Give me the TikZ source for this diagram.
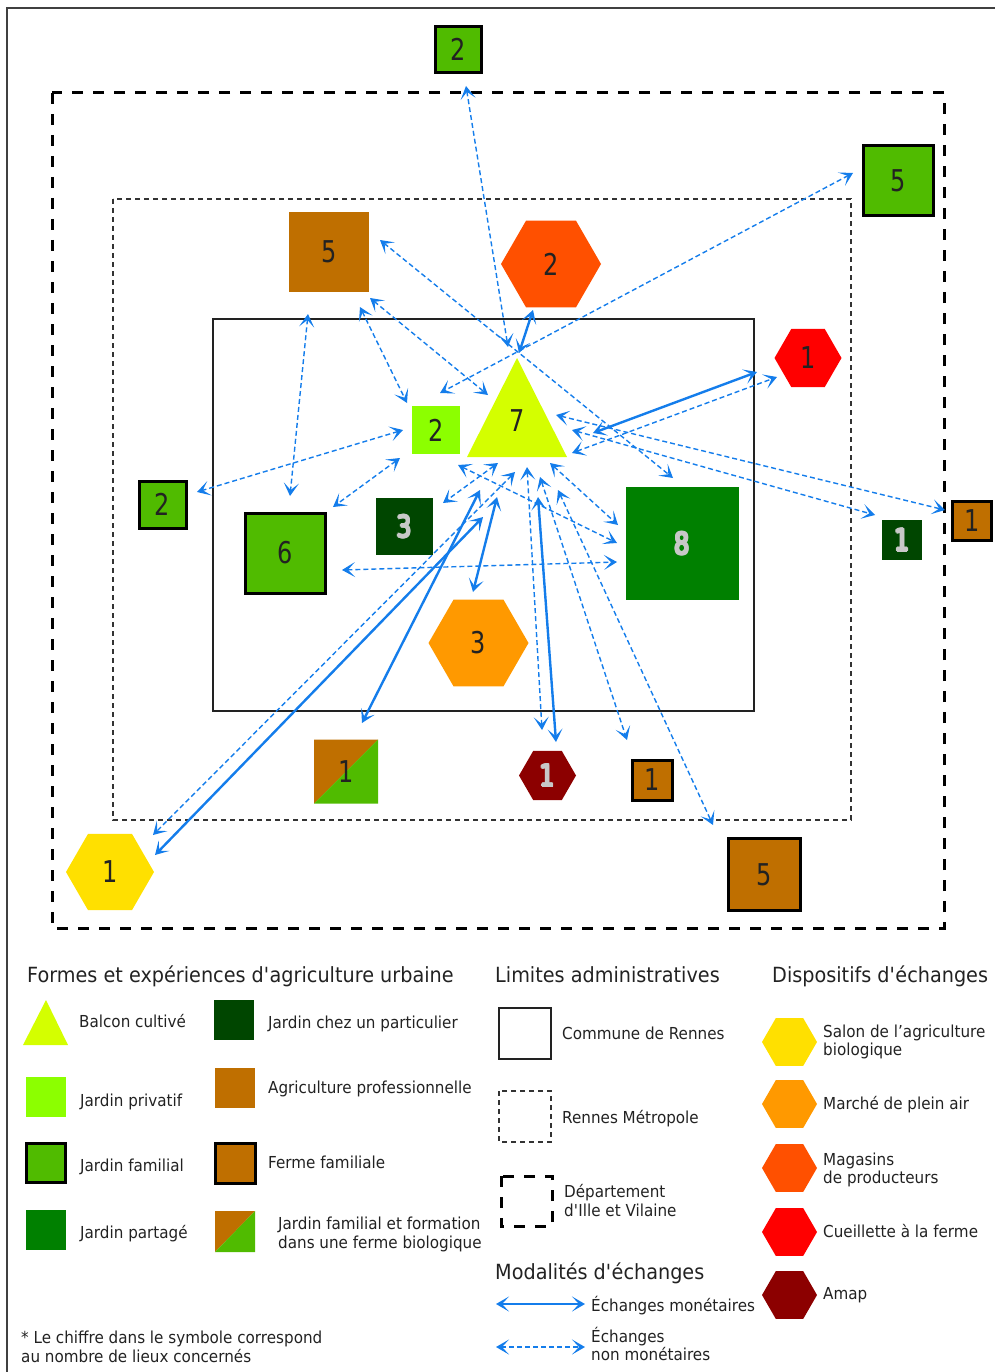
\documentclass[tikz,border=0pt]{standalone}
\usepackage{fontspec}
\setmainfont{DejaVu Sans}[FakeStretch=0.92]
\newfontfamily\numfont{DejaVu Sans}[FakeStretch=0.8]
\usetikzlibrary{shapes.geometric,arrows.meta}
\definecolor{famgreen}{RGB}{80,187,0}
\definecolor{brownag}{RGB}{191,111,0}
\definecolor{darkgr}{RGB}{0,70,0}
\definecolor{partgr}{RGB}{0,128,0}
\definecolor{privgr}{RGB}{140,255,0}
\definecolor{balcon}{RGB}{212,255,0}
\definecolor{salon}{RGB}{255,224,0}
\definecolor{marche}{RGB}{255,153,0}
\definecolor{magasin}{RGB}{255,80,0}
\definecolor{cueil}{RGB}{255,0,0}
\definecolor{amapc}{RGB}{140,0,0}
\definecolor{flow}{RGB}{20,125,235}
\definecolor{ink}{RGB}{34,34,34}
\definecolor{halo}{RGB}{200,200,200}
\newcommand\hdfont{\fontsize{20.9}{24}\selectfont}
\newcommand\lbfont{\fontsize{16.5}{19}\selectfont}
\newcommand\nbfont{\numfont\fontsize{30}{30}\selectfont}
\newsavebox\digbox
\newcommand\hlcopy[2]{\rlap{\kern#1\raisebox{#2}{\usebox\digbox}}}
\newcommand\outl[1]{\sbox\digbox{#1}%
  \hlcopy{1.1pt}{0pt}\hlcopy{-1.1pt}{0pt}\hlcopy{0pt}{1.1pt}\hlcopy{0pt}{-1.1pt}%
  \hlcopy{0.8pt}{0.8pt}\hlcopy{-0.8pt}{0.8pt}\hlcopy{0.8pt}{-0.8pt}\hlcopy{-0.8pt}{-0.8pt}%
  \textcolor{ink}{\usebox\digbox}}
\tikzset{
  sq/.style={rectangle,inner sep=0pt,outer sep=0pt,text=ink,font=\nbfont},
  famsq/.style={sq,fill=famgreen,draw=black,line width=3pt},
  fermesq/.style={sq,fill=brownag,draw=black,line width=3pt},
  prosq/.style={sq,fill=brownag},
  privsq/.style={sq,fill=privgr},
  partsq/.style={sq,fill=partgr},
  partisq/.style={sq,fill=darkgr},
  rim/.style={text=halo},
  hexa/.style={regular polygon,regular polygon sides=6,inner sep=0pt,outer sep=0pt,text=ink,font=\nbfont},
  lab/.style={anchor=base west,inner sep=0pt,text=ink,font=\lbfont},
  head/.style={anchor=base west,inner sep=0pt,text=ink,font=\hdfont},
  tipx/.tip={Stealth[length=13pt,width=15pt,inset=7pt]},
  mon/.style={draw=flow,line width=2.4pt,tipx-tipx},
  nonmon/.style={draw=flow,line width=1.4pt,dash pattern=on 5pt off 3pt,tipx-tipx},
}
\begin{document}
\begin{tikzpicture}[x=1pt,y=-1pt]
\useasboundingbox (0,0) rectangle (995,1372);
% outer frame
\draw[line width=2pt,black!75] (7,1372) -- (7,8) -- (995,8);
% administrative limits
\draw[line width=3pt,dash pattern=on 11pt off 10pt,black] (52,93) rectangle (944,928);
\draw[line width=1.5pt,dash pattern=on 5pt off 4pt,black!80] (113,199) rectangle (851,820);
\draw[line width=2pt,ink] (213,319) rectangle (754,711);

% shapes
\node[famsq,minimum size=46pt] (topfam) at (458.5,49.5) {2};
\node[famsq,minimum size=70pt] (rightfam) at (898.5,181) {5};
\node[prosq,minimum size=80pt] (pro5) at (329,252) {5};
\node[hexa,fill=magasin,minimum size=100pt] (mag) at (551,264) {2};
\node[hexa,fill=cueil,minimum size=67pt] (cueil1) at (808,358) {1};
\fill[balcon] (467,457) -- (517,358) -- (567,457) -- cycle;
\node[sq] (balc) at (517,421) {7};
\node[privsq,minimum size=48pt] (priv) at (436,430) {2};
\node[famsq,minimum size=47pt] (leftfam) at (162.5,504.5) {2};
\node[famsq,minimum size=80pt] (fam6) at (285.5,553) {6};
\node[partisq,rim,minimum size=57pt] (parti3) at (404.5,526.5) {\outl{3}};
\node[partsq,rim,minimum size=113pt] (part8) at (682,543.5) {\outl{8}};
\node[hexa,fill=marche,minimum size=100pt] (marche3) at (478.5,643) {3};
\node[partisq,rim,minimum size=40pt] (parti1) at (902,540) {\outl{1}};
\node[fermesq,minimum size=39pt] (ferme1a) at (972,520.5) {1};
\fill[brownag] (314,803.5) -- (314,739.5) -- (378,739.5) -- cycle;
\fill[famgreen] (314,803.5) -- (378,803.5) -- (378,739.5) -- cycle;
\node[sq] (split1) at (346,771.5) {1};
\node[hexa,rim,fill=amapc,minimum size=57pt] (amap1) at (547.5,775.5) {\outl{1}};
\node[fermesq,minimum size=40pt] (ferme1b) at (652.5,780) {1};
\node[fermesq,minimum size=72pt] (ferme5) at (764.5,874.5) {5};
\node[hexa,fill=salon,minimum size=88pt] (salon1) at (110,872) {1};

% arrow end points
\coordinate (a1s) at (466,86);   \coordinate (a1e) at (508,347);
\coordinate (a2s) at (853,173);  \coordinate (a2e) at (440,393);
\coordinate (a3s) at (380,240);  \coordinate (a3e) at (673,478);
\coordinate (a4s) at (370,298);  \coordinate (a4e) at (488,395);
\coordinate (a5s) at (360,307);  \coordinate (a5e) at (407,403);
\coordinate (a6s) at (308,314);  \coordinate (a6e) at (290,496);
\coordinate (a7s) at (403,430);  \coordinate (a7e) at (197,492);
\coordinate (a8s) at (400,458);  \coordinate (a8e) at (333,507);
\coordinate (a9s) at (458,465);  \coordinate (a9e) at (617,543);
\coordinate (a10s) at (498,463); \coordinate (a10e) at (443,503);
\coordinate (a11s) at (515,472); \coordinate (a11e) at (153,835);
\coordinate (a16s) at (527,467); \coordinate (a16e) at (542,730);
\coordinate (a17s) at (540,477); \coordinate (a17e) at (627,740);
\coordinate (a18s) at (558,490); \coordinate (a18e) at (713,825);
\coordinate (a19s) at (550,463); \coordinate (a19e) at (618,525);
\coordinate (a20s) at (342,570); \coordinate (a20e) at (617,562);
\coordinate (a22s) at (572,453); \coordinate (a22e) at (777,377);
\coordinate (a23s) at (556,415); \coordinate (a23e) at (945,510);
\coordinate (a24s) at (572,430); \coordinate (a24e) at (875,515);
\coordinate (m1s) at (533,310);  \coordinate (m1e) at (519,353);
\coordinate (m2s) at (483,517);  \coordinate (m2e) at (155,855);
\coordinate (m3s) at (480,490);  \coordinate (m3e) at (362,723);
\coordinate (m4s) at (497,497);  \coordinate (m4e) at (473,592);
\coordinate (m5s) at (538,497);  \coordinate (m5e) at (556,742);
\coordinate (m6s) at (593,433);  \coordinate (m6e) at (757,372);

\foreach \i in {1,2,3,4,5,6,7,8,9,10,11,16,17,18,19,20,22,23,24}
  \draw[nonmon] (a\i s) -- (a\i e);
\foreach \i in {1,...,6}
  \draw[mon] (m\i s) -- (m\i e);

% ===== legend =====
\node[head] (h1) at (27,982) {Formes et expériences d\textquotesingle agriculture urbaine};
\fill[balcon] (23,1045) -- (46,1000) -- (68,1045) -- cycle;
\node[lab] (lbalc) at (79,1027) {Balcon cultivé};
\node[privsq,minimum size=40pt] (kpriv) at (46,1097) {};
\node[lab] (lpriv) at (80,1106) {Jardin privatif};
\node[famsq,minimum size=39pt] (kfam) at (46,1162.5) {};
\node[lab] (lfam) at (80,1171) {Jardin familial};
\node[partsq,minimum size=40pt] (kpart) at (46,1230) {};
\node[lab] (lpart) at (80,1238) {Jardin partagé};

\node[partisq,minimum size=40pt] (kparti) at (234,1020) {};
\node[lab] (lparti) at (268,1028) {Jardin chez un particulier};
\node[prosq,minimum size=40pt] (kpro) at (235,1087.5) {};
\node[lab] (lpro) at (268,1093) {Agriculture professionnelle};
\node[fermesq,minimum size=40pt] (kferme) at (235,1163.5) {};
\node[lab] (lferme) at (268,1168) {Ferme familiale};
\fill[brownag] (215,1252) -- (215,1211) -- (255,1211) -- cycle;
\fill[famgreen] (215,1252) -- (255,1252) -- (255,1211) -- cycle;
\node[lab] (lsplit1) at (278,1229) {Jardin familial et formation};
\node[lab] (lsplit2) at (278,1248) {dans une ferme biologique};

\node[lab] (fn1) at (21,1343) {* Le chiffre dans le symbole correspond};
\node[lab] (fn2) at (21,1362) {au nombre de lieux concernés};

\node[head] (h2) at (495,982) {Limites administratives};
\draw[line width=2pt,ink] (499,1008) rectangle (551,1059);
\node[lab] (lcom) at (562,1039) {Commune de Rennes};
\draw[line width=1.5pt,dash pattern=on 5pt off 4pt,black!80] (499,1091) rectangle (551,1142);
\node[lab] (lmet) at (562,1123) {Rennes Métropole};
\draw[line width=3pt,dash pattern=on 11pt off 10pt,black] (501,1176) rectangle (552,1226);
\node[lab] (ldep1) at (564,1197) {Département};
\node[lab] (ldep2) at (564,1216) {d\textquotesingle Ille et Vilaine};

\node[head] (h3) at (495,1279) {Modalités d\textquotesingle échanges};
\coordinate (km1) at (496,1304); \coordinate (km2) at (585,1304);
\draw[mon,line width=2pt] (km1) -- (km2);
\node[lab] (lmon) at (591,1311) {Échanges monétaires};
\coordinate (kn1) at (496,1347); \coordinate (kn2) at (585,1347);
\draw[nonmon] (kn1) -- (kn2);
\node[lab] (lnon1) at (591,1342) {Échanges};
\node[lab] (lnon2) at (591,1360) {non monétaires};

\node[head] (h4) at (772,982) {Dispositifs d\textquotesingle échanges};
\node[hexa,fill=salon,minimum size=55pt] (ksalon) at (789.5,1042) {};
\node[lab] (lsal1) at (823,1037) {Salon de l’agriculture};
\node[lab] (lsal2) at (823,1055) {biologique};
\node[hexa,fill=marche,minimum size=55pt] (kmarche) at (789.5,1104) {};
\node[lab] (lmar) at (823,1109) {Marché de plein air};
\node[hexa,fill=magasin,minimum size=55pt] (kmag) at (789.5,1168) {};
\node[lab] (lmag1) at (823,1165) {Magasins};
\node[lab] (lmag2) at (823,1183) {de producteurs};
\node[hexa,fill=cueil,minimum size=55pt] (kcueil) at (789.5,1232) {};
\node[lab] (lcue) at (823,1237) {Cueillette à la ferme};
\node[hexa,fill=amapc,minimum size=55pt] (kamap) at (789.5,1295) {};
\node[lab] (lamap) at (823,1299) {Amap};
\end{tikzpicture}
\end{document}
